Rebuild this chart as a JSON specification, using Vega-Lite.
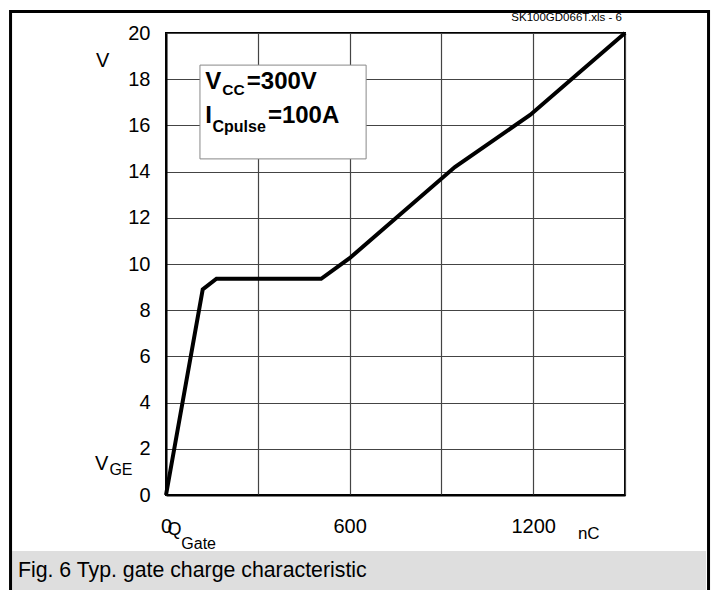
{
  "$schema": "https://vega.github.io/schema/vega-lite/v6.json",
  "width": 459,
  "height": 462,
  "autosize": {"type": "none"},
  "padding": {"left": 166, "top": 33, "right": 94, "bottom": 95},
  "background": "white",
  "config": {
    "font": "Liberation Sans",
    "view": {"stroke": "black", "strokeWidth": 2},
    "text": {"font": "Liberation Sans", "color": "black"},
    "axis": {
      "title": null, "ticks": false, "domainColor": "black", "domainWidth": 2,
      "grid": true, "gridColor": "#444", "gridWidth": 1.2, "gridOpacity": 1,
      "labelFontSize": 20, "labelColor": "black", "labelFont": "Liberation Sans",
      "labelFlush": false, "labelOverlap": false
    }
  },
  "data": {"values": [{}]},
  "datasets": {
    "curve": [
      {"q": 0, "v": 0},
      {"q": 120, "v": 8.9},
      {"q": 165, "v": 9.36},
      {"q": 507, "v": 9.36},
      {"q": 600, "v": 10.25},
      {"q": 944, "v": 14.2},
      {"q": 1190, "v": 16.45},
      {"q": 1500, "v": 20}
    ]
  },
  "layer": [
    {
      "data": {"name": "curve"},
      "mark": {"type": "line", "color": "black", "strokeWidth": 4, "strokeJoin": "miter"},
      "encoding": {
        "x": {
          "field": "q", "type": "quantitative",
          "scale": {"domain": [0, 1500], "nice": false},
          "axis": {
            "values": [0, 300, 600, 900, 1200, 1500],
            "format": "d",
            "labelExpr": "datum.value % 600 === 0 ? datum.label : ''",
            "labelPadding": 21
          }
        },
        "y": {
          "field": "v", "type": "quantitative",
          "scale": {"domain": [0, 20], "nice": false},
          "axis": {
            "values": [0, 2, 4, 6, 8, 10, 12, 14, 16, 18, 20],
            "labelPadding": 16
          }
        }
      }
    },
    {
      "mark": {"type": "rect", "fill": "#dedede", "clip": false},
      "encoding": {
        "x": {"datum": -503, "type": "quantitative"},
        "x2": {"datum": 1765},
        "y": {"datum": -2.42, "type": "quantitative"},
        "y2": {"datum": -4.3}
      }
    },
    {
      "mark": {"type": "rect", "fill": "transparent", "stroke": "black", "strokeWidth": 3, "clip": false},
      "encoding": {
        "x": {"datum": -508, "type": "quantitative"},
        "x2": {"datum": 1773},
        "y": {"datum": 20.93, "type": "quantitative"},
        "y2": {"datum": -4.6}
      }
    },
    {
      "mark": {"type": "rect", "fill": "white", "stroke": "#888", "strokeWidth": 1},
      "encoding": {
        "x": {"datum": 111, "type": "quantitative"},
        "x2": {"datum": 654},
        "y": {"datum": 18.61, "type": "quantitative"},
        "y2": {"datum": 14.55}
      }
    },
    {
      "mark": {"type": "text", "fontSize": 24, "fontWeight": "bold", "align": "left", "baseline": "alphabetic"},
      "encoding": {"x": {"datum": 128, "type": "quantitative"}, "y": {"datum": 17.56, "type": "quantitative"}, "text": {"value": "V"}}
    },
    {
      "mark": {"type": "text", "fontSize": 15.5, "fontWeight": "bold", "align": "left", "baseline": "alphabetic"},
      "encoding": {"x": {"datum": 184, "type": "quantitative"}, "y": {"datum": 17.3, "type": "quantitative"}, "text": {"value": "CC"}}
    },
    {
      "mark": {"type": "text", "fontSize": 24, "fontWeight": "bold", "align": "left", "baseline": "alphabetic"},
      "encoding": {"x": {"datum": 264, "type": "quantitative"}, "y": {"datum": 17.56, "type": "quantitative"}, "text": {"value": "=300V"}}
    },
    {
      "mark": {"type": "text", "fontSize": 24, "fontWeight": "bold", "align": "left", "baseline": "alphabetic"},
      "encoding": {"x": {"datum": 128, "type": "quantitative"}, "y": {"datum": 16.09, "type": "quantitative"}, "text": {"value": "I"}}
    },
    {
      "mark": {"type": "text", "fontSize": 16, "fontWeight": "bold", "align": "left", "baseline": "alphabetic"},
      "encoding": {"x": {"datum": 152, "type": "quantitative"}, "y": {"datum": 15.73, "type": "quantitative"}, "text": {"value": "Cpulse"}}
    },
    {
      "mark": {"type": "text", "fontSize": 24, "fontWeight": "bold", "align": "left", "baseline": "alphabetic"},
      "encoding": {"x": {"datum": 333, "type": "quantitative"}, "y": {"datum": 16.09, "type": "quantitative"}, "text": {"value": "=100A"}}
    },
    {
      "mark": {"type": "text", "fontSize": 20, "align": "center", "baseline": "alphabetic", "clip": false},
      "encoding": {"x": {"datum": -207, "type": "quantitative"}, "y": {"datum": 18.54, "type": "quantitative"}, "text": {"value": "V"}}
    },
    {
      "mark": {"type": "text", "fontSize": 20, "align": "left", "baseline": "alphabetic"},
      "encoding": {"x": {"datum": -232, "type": "quantitative"}, "y": {"datum": 1.08, "type": "quantitative"}, "text": {"value": "V"}}
    },
    {
      "mark": {"type": "text", "fontSize": 16, "align": "left", "baseline": "alphabetic"},
      "encoding": {"x": {"datum": -185, "type": "quantitative"}, "y": {"datum": 0.87, "type": "quantitative"}, "text": {"value": "GE"}}
    },
    {
      "mark": {"type": "text", "fontSize": 18, "align": "left", "baseline": "alphabetic"},
      "encoding": {"x": {"datum": 5, "type": "quantitative"}, "y": {"datum": -1.73, "type": "quantitative"}, "text": {"value": "Q"}}
    },
    {
      "mark": {"type": "text", "fontSize": 16, "align": "left", "baseline": "alphabetic"},
      "encoding": {"x": {"datum": 50, "type": "quantitative"}, "y": {"datum": -2.34, "type": "quantitative"}, "text": {"value": "Gate"}}
    },
    {
      "mark": {"type": "text", "fontSize": 17, "align": "left", "baseline": "alphabetic"},
      "encoding": {"x": {"datum": 1346, "type": "quantitative"}, "y": {"datum": -1.9, "type": "quantitative"}, "text": {"value": "nC"}}
    },
    {
      "mark": {"type": "text", "fontSize": 11.5, "align": "right", "baseline": "alphabetic"},
      "encoding": {"x": {"datum": 1490, "type": "quantitative"}, "y": {"datum": 20.54, "type": "quantitative"}, "text": {"value": "SK100GD066T.xls - 6"}}
    },
    {
      "mark": {"type": "text", "fontSize": 21.3, "align": "left", "baseline": "alphabetic"},
      "encoding": {"x": {"datum": -484, "type": "quantitative"}, "y": {"datum": -3.54, "type": "quantitative"}, "text": {"value": "Fig. 6 Typ. gate charge characteristic"}}
    }
  ]
}
